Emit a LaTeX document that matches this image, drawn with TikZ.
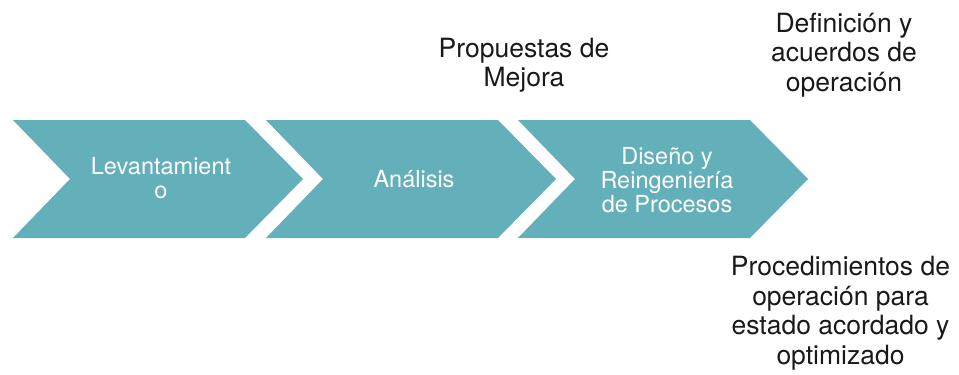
\documentclass[tikz,border=0pt]{standalone}
\usepackage{fontspec}
\setmainfont{TeX Gyre Heros}
\definecolor{chevteal}{RGB}{99,175,186}
\definecolor{darktext}{RGB}{25,25,25}
\begin{document}
\begin{tikzpicture}[x=1pt,y=-1pt,
  chev/.style={fill=chevteal},
  wlabel/.style={text=white,font=\fontsize{23.5}{24}\selectfont,align=center,inner sep=0pt},
  blabel/.style={text=darktext,font=\fontsize{26.5}{29.5}\selectfont,align=center,inner sep=0pt}]
\useasboundingbox (0,0) rectangle (959,375);
\foreach \x in {13,266,518} {
  \fill[chev] (\x,120) -- ++(232,0) -- ++(58,59) -- ++(-58,59) -- ++(-232,0) -- ++(57,-59) -- cycle;
}
\node[wlabel] (lev) at (161,178) {Levantamient\\o};
\node[wlabel] (ana) at (414,179) {Análisis};
\node[wlabel] (dis) at (667,180) {Diseño y\\Reingeniería\\de Procesos};
\node[blabel] (prop) at (524,65) {Propuestas de\\Mejora};
\node[blabel] (defi) at (844,55) {Definición y\\acuerdos de\\operación};
\node[blabel] (proc) at (840.5,313) {Procedimientos de\\operación para\\estado acordado y\\optimizado};
\end{tikzpicture}
\end{document}
